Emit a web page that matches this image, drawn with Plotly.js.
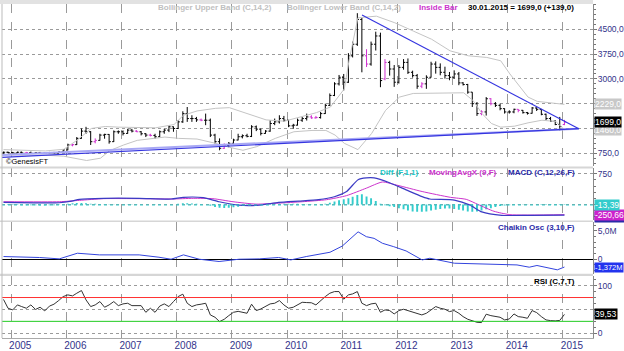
<!DOCTYPE html>
<html><head><meta charset="utf-8">
<script src="https://cdn.plot.ly/plotly-3.0.1.min.js"></script>
<style>html,body{margin:0;padding:0;background:#fff;}#chart{width:624px;height:351px;}</style>
</head><body><div id="chart"></div>
<script>
// ---------- DATA ----------
const months = [
'2004-11','2004-12',
'2005-01','2005-02','2005-03','2005-04','2005-05','2005-06','2005-07','2005-08','2005-09','2005-10','2005-11','2005-12',
'2006-01','2006-02','2006-03','2006-04','2006-05','2006-06','2006-07','2006-08','2006-09','2006-10','2006-11','2006-12',
'2007-01','2007-02','2007-03','2007-04','2007-05','2007-06','2007-07','2007-08','2007-09','2007-10','2007-11','2007-12',
'2008-01','2008-02','2008-03','2008-04','2008-05','2008-06','2008-07','2008-08','2008-09','2008-10','2008-11','2008-12',
'2009-01','2009-02','2009-03','2009-04','2009-05','2009-06','2009-07','2009-08','2009-09','2009-10','2009-11','2009-12',
'2010-01','2010-02','2010-03','2010-04','2010-05','2010-06','2010-07','2010-08','2010-09','2010-10','2010-11','2010-12',
'2011-01','2011-02','2011-03','2011-04','2011-05','2011-06','2011-07','2011-08','2011-09','2011-10','2011-11','2011-12',
'2012-01','2012-02','2012-03','2012-04','2012-05','2012-06','2012-07','2012-08','2012-09','2012-10','2012-11','2012-12',
'2013-01','2013-02','2013-03','2013-04','2013-05','2013-06','2013-07','2013-08','2013-09','2013-10','2013-11','2013-12',
'2014-01','2014-02','2014-03','2014-04','2014-05','2014-06','2014-07','2014-08','2014-09','2014-10','2014-11','2014-12',
'2015-01'];

const openP = [
760,780,
770,760,780,760,770,750,770,750,760,770,750,790,
850,1000,1010,1200,1420,1400,1100,1140,1300,1320,1100,1400,
1400,1350,1450,1420,1400,1340,1300,1290,1250,1400,1450,1550,
1500,1700,1950,1800,1800,1760,1750,1750,1300,1100,900,980,
1050,1150,1250,1280,1260,1550,1480,1350,1420,1650,1700,1800,
1750,1580,1600,1750,1800,1850,1820,1830,1950,2200,2500,2850,
3050,2900,3700,4050,4800,3700,3450,4050,4300,3000,3500,3300,
2900,3350,3500,3200,3100,2780,2850,3050,3450,3350,3200,3100,
3050,3150,2880,2830,2600,2250,1950,2000,2400,2250,2200,2100,
2000,2000,2080,2050,1980,1960,2120,2080,1930,1800,1720,1620,
1620];
const highP = [
800,800,
790,800,800,790,800,780,790,780,790,790,800,870,
1040,1030,1240,1500,1550,1420,1200,1340,1340,1330,1440,1440,
1440,1490,1490,1450,1420,1360,1340,1340,1440,1490,1600,1560,
1750,2020,2150,1900,1850,1800,1950,1800,1340,1200,1050,1090,
1190,1340,1320,1340,1600,1590,1490,1450,1750,1800,1900,1880,
1760,1640,1800,1850,1950,1900,1880,2000,2250,2560,2900,3120,
3150,3780,4130,4990,4850,3900,4130,4430,4400,3600,3550,3420,
3420,3600,3620,3250,3150,2900,3110,3520,3530,3470,3370,3210,
3260,3210,2900,2850,2600,2300,2050,2450,2420,2300,2250,2110,
2050,2100,2090,2060,2000,2150,2140,2090,1950,1850,1750,1850,
1760];
const lowP = [
740,750,
740,750,740,750,740,730,740,730,740,730,740,780,
840,960,1000,1190,1340,1000,1050,1130,1190,1040,1090,1340,
1290,1340,1380,1390,1290,1240,1260,1190,1240,1340,1390,1400,
1490,1670,1700,1700,1700,1720,1600,1240,1040,840,880,930,
1030,1140,1200,1230,1240,1420,1290,1340,1400,1600,1650,1700,
1540,1490,1590,1700,1740,1790,1800,1800,1940,2180,2480,2800,
2650,2880,3650,4000,3200,3360,3400,3860,2750,2960,3100,2760,
2860,3280,3150,3040,2700,2720,2700,3040,3160,3110,3010,2960,
3010,2810,2800,2550,2150,1880,1900,1890,2200,2150,2050,1950,
1950,1960,1990,1950,1920,1950,2030,1900,1750,1700,1600,1440,
1600];
const closeP = [
780,770,
760,780,760,770,750,770,750,760,770,750,790,850,
1000,1010,1200,1420,1400,1100,1140,1300,1320,1100,1400,1400,
1350,1450,1420,1400,1340,1300,1290,1250,1400,1450,1550,1500,
1700,1950,1800,1800,1760,1750,1750,1300,1100,900,980,1050,
1150,1250,1280,1260,1550,1480,1350,1420,1650,1700,1800,1750,
1580,1600,1750,1800,1850,1820,1830,1950,2200,2500,2850,3050,
2900,3700,4050,4800,3700,3450,4050,4300,2950,3500,3300,2900,
3350,3500,3200,3100,2780,2850,3050,3450,3350,3200,3100,3050,
3150,2880,2830,2600,2250,1950,2000,2400,2250,2200,2100,2000,
2000,2080,2050,1980,1960,2120,2080,1930,1800,1720,1620,1560,
1699];
const insideBarMonths = ['2005-04','2006-02','2006-07','2007-04','2007-07','2008-06','2008-11',
  '2010-06','2010-07','2011-06','2011-10','2012-06','2013-07','2013-09','2014-03','2015-01'];

const bbUpperDates = ['2004-11-11','2005-04-15','2005-08-15','2005-12-15','2006-03-15','2006-06-15','2006-09-15','2006-12-15',
 '2007-04-15','2007-08-15','2007-12-15','2008-02-15','2008-05-15','2008-09-15','2008-12-15','2009-04-15','2009-08-15','2009-12-15',
 '2010-03-15','2010-07-15','2010-10-15','2011-01-15','2011-02-15','2011-04-15','2011-08-15','2011-12-15','2012-04-15','2012-08-15',
 '2012-12-15','2013-04-15','2013-08-15','2013-11-15','2014-01-15','2014-03-15','2014-05-15','2014-07-15','2014-10-15','2015-01-11'];
const bbUpper = [860,830,820,870,1150,1500,1560,1540,1530,1520,1620,1900,2030,2110,2130,1950,1760,1720,
 1830,1980,2150,2700,3550,4850,4900,4700,4450,4200,3850,3700,3650,3550,3150,2800,2450,2320,2280,2229];
const bbLowerDates = ['2004-11-11','2005-04-15','2005-08-15','2005-12-15','2006-03-15','2006-05-15','2006-08-15','2006-10-15',
 '2007-01-15','2007-04-15','2007-07-15','2007-10-15','2008-01-15','2008-05-15','2008-09-15','2008-12-15','2009-03-15','2009-06-15',
 '2009-10-15','2010-02-15','2010-06-15','2010-09-15','2010-11-15','2011-01-15','2011-04-15','2011-07-15','2011-10-15','2012-01-15',
 '2012-04-15','2012-08-15','2012-12-15','2013-03-15','2013-05-15','2013-07-15','2013-09-15','2013-11-15','2014-02-15','2014-05-15',
 '2014-08-15','2014-11-15','2015-01-11'];
const bbLower = [700,700,690,660,570,530,600,830,1000,1140,1190,1240,1200,1180,1050,930,840,950,
 1200,1400,1440,1440,1300,1050,860,1350,2050,2450,2560,2570,2580,2580,2350,1950,1650,1540,1570,1670,
 1750,1710,1460];

const trendUpperX = ['2011-05-12','2015-04-16'];
const trendUpperY = [4933,1494];
const trendLowerX = ['2004-11-01','2015-04-16'];
const trendLowerY = [625,1494];
const trendLower2Y = [700,1494];

const macdDates = ['2004-11-11','2005-11-15','2006-02-05','2006-03-28','2006-09-05','2007-04-28','2007-11-25','2008-02-15',
 '2008-06-25','2008-10-08','2009-02-17','2009-07-01','2009-11-06','2010-03-18','2010-07-28','2010-11-10','2011-01-30',
 '2011-04-16','2011-06-10','2011-07-31','2011-11-14','2012-02-28','2012-06-13','2012-08-03','2013-01-12','2013-04-27',
 '2013-07-13','2013-11-22','2014-05-23','2015-01-11'];
const macd = [50,42,83,125,150,150,133,175,167,67,-17,-17,50,83,117,190,317,608,650,650,525,358,192,133,108,-17,-183,-267,-267,-264];
const signalDates = ['2004-11-11','2005-11-15','2006-03-28','2006-09-05','2007-04-28','2007-11-25','2008-04-20','2008-08-28',
 '2009-01-08','2009-06-10','2009-11-06','2010-04-12','2010-09-20','2011-01-30','2011-06-10','2011-09-24','2012-01-05',
 '2012-06-13','2012-12-17','2013-04-01','2013-06-18','2013-10-01','2014-01-15','2015-01-11'];
const signal = [67,67,100,142,142,133,150,142,67,8,33,67,117,217,400,550,467,317,175,125,0,-167,-250,-250.66];
const diff = [
-10,-12,
-15,-15,-18,-20,-22,-22,-25,-25,-22,-20,-15,-5,
20,30,35,35,30,20,15,10,10,8,5,5,
5,5,5,5,5,0,0,-5,-5,0,0,0,
20,30,30,25,20,10,0,-30,-60,-80,-85,-80,
-70,-55,-40,-30,-20,-10,0,5,10,15,15,15,
15,15,15,10,5,5,5,10,20,40,70,105,
130,150,190,230,250,195,150,85,20,-20,-45,-60,
-90,-120,-150,-170,-180,-180,-170,-150,-130,-110,-100,-100,
-110,-130,-150,-170,-180,-175,-150,-120,-90,-60,-40,-25,
-20,-15,-10,-10,-10,-10,-10,-12,-15,-15,-15,-15,
-13.39];

const chaikinDates = ['2004-11-11','2005-07-08','2005-11-15','2006-03-15','2006-08-08','2007-04-28','2007-09-06','2007-11-25',
 '2008-02-15','2008-05-30','2008-10-08','2009-02-17','2009-07-01','2009-11-06','2010-01-26','2010-05-08','2010-10-12',
 '2011-01-01','2011-04-16','2011-06-10','2011-07-31','2011-09-24','2011-12-08','2012-02-28','2012-06-13','2012-08-03',
 '2013-01-12','2013-06-18','2013-11-22','2014-03-03','2014-05-23','2014-07-13','2014-11-25','2015-01-11'];
const chaikin = [0.47,0.3,0.06,1.05,0.76,0.76,0.35,0,0.76,0,-0.4,0,0.06,0.3,-0.12,0.47,1.22,
 2.3,4.8,3.95,3.66,2.8,2.2,1.45,-0.12,0.17,-0.7,-0.8,-0.87,-1.0,-1.4,-1.1,-1.86,-1.372];

const rsi = [
71,52.5,
49,59.5,56,52.5,59.5,50,54.6,47,57,61,68.6,77,
80.5,78.4,84,89.6,70,56,59.5,66.5,54.6,59.5,66.5,58,
61.6,63,58,58,58,44,52.5,44,57,61.6,56,66.5,
77,82,63,56,59.5,61,63,38.5,33.6,24.5,29.4,37,
44,46,44,42,61,47.6,51,56,61.6,63,68.6,59.5,
52.5,54.6,59.5,65,64.4,64,59.5,68.6,77,84,87.5,87.5,
71.4,80.5,82.6,87.5,63,58,61.6,63,44,49,47.6,40.6,
47.6,50.4,47.6,44,40.6,38.5,42,49,56,52.5,50.4,45.5,
47.6,42,35,29.4,26,23.1,22.4,40,37,35,33.6,28,
30,40.6,35,33.6,31.5,47.6,43.4,35,28,26.6,26,27,
39.53];
const rsiUpperLevel = 75, rsiLowerLevel = 25;

const yearTicks = ['2005-01-01','2006-01-01','2007-01-01','2008-01-01','2009-01-01','2010-01-01','2011-01-01','2012-01-01','2013-01-01','2014-01-01','2015-01-01'];
const yearLabels = ['2005','2006','2007','2008','2009','2010','2011','2012','2013','2014','2015'];
const priceTicks = [750,1500,2250,3000,3750,4500];
const priceTickText = ['750,0','','','3000,0','3750,0','4500,0'];

// ---------- BUILD ----------
const xd = months.map(m => m + '-11');
const isIn = months.map(m => insideBarMonths.includes(m));
function pick(arr, flag){ return arr.filter((v,i)=>isIn[i]===flag); }

const NAVY = '#33338a';
const traces = [];
traces.push({type:'scatter',mode:'lines',x:bbUpperDates,y:bbUpper,line:{color:'#c4c4c4',width:1},yaxis:'y',hoverinfo:'skip'});
traces.push({type:'scatter',mode:'lines',x:bbLowerDates,y:bbLower,line:{color:'#c4c4c4',width:1},yaxis:'y',hoverinfo:'skip'});
traces.push({type:'scatter',mode:'lines',x:trendLowerX,y:trendLower2Y,line:{color:'#a8a8f4',width:2},yaxis:'y',hoverinfo:'skip'});
traces.push({type:'scatter',mode:'lines',x:trendLowerX,y:trendLowerY,line:{color:'#3535e0',width:1.2},yaxis:'y',hoverinfo:'skip'});
traces.push({type:'scatter',mode:'lines',x:trendUpperX,y:trendUpperY,line:{color:'#3535e0',width:1.2},yaxis:'y',hoverinfo:'skip'});
[false,true].forEach(flag=>{
  const col = flag ? '#d030d0' : '#000000';
  traces.push({type:'ohlc',x:pick(xd,flag),open:pick(openP,flag),high:pick(highP,flag),low:pick(lowP,flag),close:pick(closeP,flag),
    increasing:{line:{color:col,width:1}},decreasing:{line:{color:col,width:1}},tickwidth:0.4,yaxis:'y',hoverinfo:'skip'});
});
traces.push({type:'bar',x:xd,y:diff,marker:{color:'#33cccc',line:{width:0}},width:1.1e9,yaxis:'y2',hoverinfo:'skip'});
traces.push({type:'scatter',mode:'lines',x:signalDates,y:signal,line:{color:'#cc33cc',width:1,shape:'spline',smoothing:0.6},yaxis:'y2',hoverinfo:'skip'});
traces.push({type:'scatter',mode:'lines',x:macdDates,y:macd,line:{color:'#3b3bc4',width:1.2,shape:'spline',smoothing:0.6},yaxis:'y2',hoverinfo:'skip'});
traces.push({type:'scatter',mode:'lines',x:chaikinDates,y:chaikin,line:{color:'#3344dd',width:1},yaxis:'y3',hoverinfo:'skip'});
traces.push({type:'scatter',mode:'lines',x:xd,y:rsi,line:{color:'#333333',width:1},yaxis:'y4',hoverinfo:'skip'});

const fontF = 'Liberation Sans, Arial, sans-serif';
const grid = {showgrid:true,gridcolor:'#9a9a9a',griddash:'dot',gridwidth:1};
function yax(domain, range, tv, tt, extra){
  return Object.assign({domain:domain,range:range,side:'right',anchor:'x',tickmode:'array',tickvals:tv,ticktext:tt,
    ticks:'outside',ticklen:3,tickcolor:'#777',showline:true,linecolor:'#888',linewidth:1,zeroline:false,fixedrange:true,
    ticklabelstandoff:-1,tickfont:{family:fontF,size:8.5,color:NAVY}},grid,extra||{});
}
const minorT = d => ({tickmode:'linear',tick0:0,dtick:d,ticks:'outside',ticklen:2,tickcolor:'#777',showgrid:false});
const layout = {
  width:624,height:351,margin:{l:2,r:31,t:4,b:13},
  paper_bgcolor:'#ffffff',plot_bgcolor:'#ffffff',showlegend:false,barmode:'overlay',
  font:{family:fontF,size:9,color:NAVY},
  xaxis:{type:'date',range:['2004-11-01','2015-07-19'],tickmode:'array',tickvals:yearTicks,ticktext:yearLabels,
    showgrid:true,gridcolor:'#9a9a9a',griddash:'dash',gridwidth:1,ticks:'',showline:true,linecolor:'#aaaaaa',
    anchor:'y4',rangeslider:{visible:false},tickfont:{family:fontF,size:10,color:NAVY},ticklabelshift:9,
    ticklabelstandoff:-2,zeroline:false,fixedrange:true},
  yaxis: yax([0.5135,1],[349,5268],priceTicks,priceTickText,{minor:minorT(150)}),
  yaxis2: yax([0.352,0.5075],[-392,882],[0,750],['','750'],{minor:minorT(150)}),
  yaxis3: yax([0.192,0.347],[-2.57,6.51],[0,5],['0','5,0M'],{showgrid:false,zeroline:true,zerolinecolor:'#000',zerolinewidth:1,minor:minorT(1)}),
  yaxis4: yax([0,0.186],[-9.9,120.4],[0,50,100],['0','','100'],{minor:minorT(12.5)}),
  shapes:[
    {type:'line',xref:'paper',x0:0,x1:1,yref:'y2',y0:diff[diff.length-1],y1:diff[diff.length-1],line:{color:'#33cccc',width:1,dash:'dot'}},
    {type:'line',xref:'paper',x0:0,x1:1,yref:'y4',y0:rsiUpperLevel,y1:rsiUpperLevel,line:{color:'#ff3030',width:1}},
    {type:'line',xref:'paper',x0:0,x1:1,yref:'y4',y0:rsiLowerLevel,y1:rsiLowerLevel,line:{color:'#22cc22',width:1}},
    {type:'rect',xref:'paper',yref:'paper',x0:-0.004,x1:1.0,y0:0.5075,y1:0.5135,fillcolor:'#d6d6d6',line:{width:0}},
    {type:'rect',xref:'paper',yref:'paper',x0:-0.004,x1:1.0,y0:0.347,y1:0.352,fillcolor:'#d6d6d6',line:{width:0}},
    {type:'rect',xref:'paper',yref:'paper',x0:-0.004,x1:1.0,y0:0.186,y1:0.192,fillcolor:'#d6d6d6',line:{width:0}},
    {type:'rect',xref:'paper',yref:'paper',x0:-0.004,x1:1.0,y0:1.0,y1:1.012,fillcolor:'#e2e2e2',line:{width:0}},
    {type:'line',xref:'paper',yref:'paper',x0:0,x1:0,y0:0,y1:1,line:{color:'#bbbbbb',width:1}}
  ],
  annotations:[]
};
function ann(x,y,text,color,size,anchor){
  layout.annotations.push({xref:'paper',yref:'paper',x:x,y:y,text:text,showarrow:false,xanchor:anchor||'left',yanchor:'middle',
    font:{family:fontF,size:size,color:color}});
}
const px = v => (v-2)/591;
const py = v => (338-v)/334;
ann(px(156),py(8),'<b>Bollinger Upper Band (C,14,2)</b>','#c0c0c0',8);
ann(px(285),py(8),'<b>Bollinger Lower Band (C,14,2)</b>','#c0c0c0',8);
ann(px(417),py(8),'<b>Inside Bar</b>','#cc33cc',8);
ann(px(576),py(8),'<b>30.01.2015 = 1699,0 (+139,0)</b>','#000000',8,'right');
ann(px(4),py(161.5),'©GenesisFT','#000000',7.5);
ann(px(378),py(173),'<b>Diff (F,1,1)</b>','#22c8c8',8);
ann(px(427),py(173),'<b>MovingAvgX (9,F)</b>','#cc33cc',8);
ann(px(577),py(173),'<b>MACD (C,12,26,F)</b>','#2a2aa8',8,'right');
ann(px(577),py(227),'<b>Chaikin Osc (3,10,F)</b>','#2a2aa8',8,'right');
ann(px(577),py(281),'<b>RSI (C,7,T)</b>','#000000',8,'right');
function box(yref,y,text,bg,fg,ys,sz){
  layout.annotations.push({xref:'paper',yref:yref,x:1,y:y,xanchor:'left',yanchor:'middle',xshift:1,yshift:ys||0,text:text,showarrow:false,
    bgcolor:bg,borderpad:0,font:{family:fontF,size:sz||8.5,color:fg}});
}
box('y',bbUpper[bbUpper.length-1],'2229,0','#c8c8c8','#ffffff');
box('y',bbLower[bbLower.length-1],'1460,0','#c8c8c8','#ffffff');
box('y',closeP[closeP.length-1],'1699,0','#000000','#ffffff');
box('y2',macd[macd.length-1],'-264,05','#2a2aa8','#2a2aa8',-2);
box('y2',signal[signal.length-1],'-250,66','#cc22cc','#ffffff');
box('y2',diff[diff.length-1],'-13,39','#33cccc','#ffffff');
box('y3',chaikin[chaikin.length-1],'-1,372M','#2233ee','#ffffff',0,7.5);
box('y4',rsi[rsi.length-1],'39,53','#000000','#ffffff');

Plotly.newPlot('chart',traces,layout,{staticPlot:true,displayModeBar:false});
</script></body></html>
